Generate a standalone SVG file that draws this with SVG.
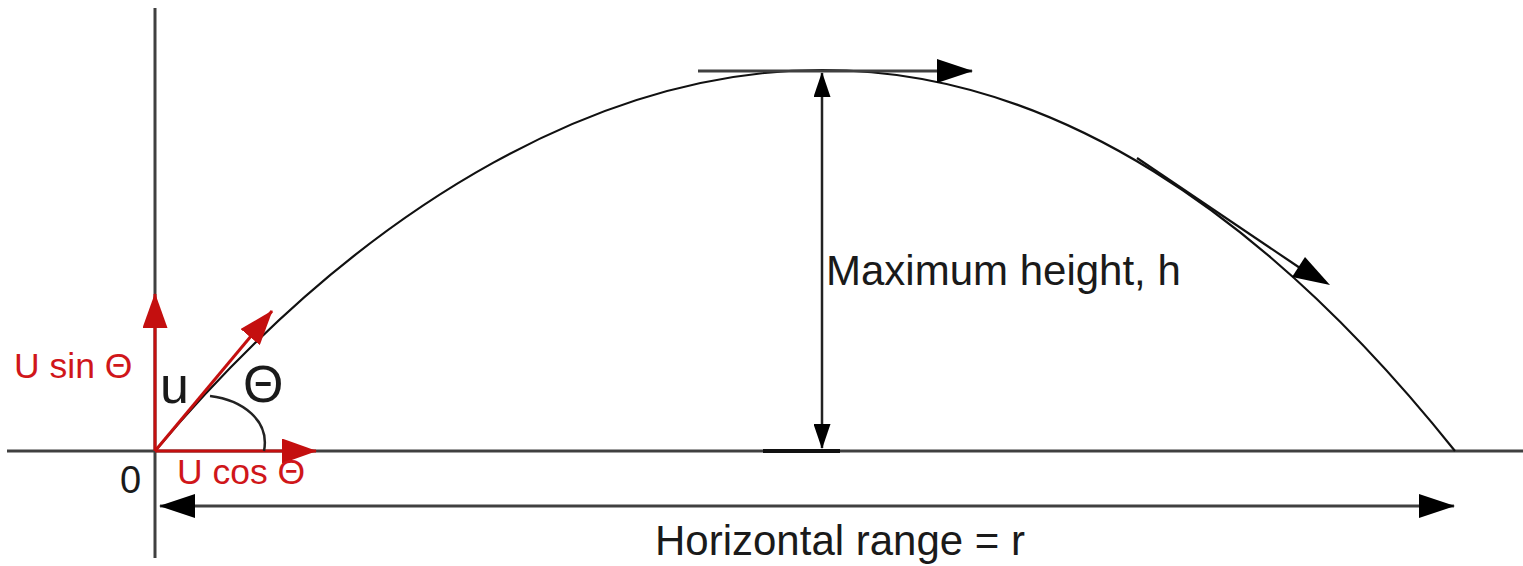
<svg xmlns="http://www.w3.org/2000/svg" width="1523" height="566" viewBox="0 0 1523 566">
<style>
.axis{stroke:#404040;stroke-width:3;fill:none}
.curve{stroke:#111;stroke-width:2.2;fill:none}
.blk{stroke:#222;stroke-width:2.5;fill:none}
.red{stroke:#c40f0f;stroke-width:3;fill:none}
text{font-family:"Liberation Sans",Arial,sans-serif}
.lbl{fill:#1a1a1a}
.rlbl{fill:#d0161a}
</style>
<defs>
<marker id="ahBig" viewBox="0 0 36 24" refX="35" refY="12" markerWidth="36" markerHeight="24" markerUnits="userSpaceOnUse" orient="auto-start-reverse"><path d="M0,0 L36,12 L0,24 Z" fill="#000"/></marker>
<marker id="ahSmall" viewBox="0 0 25 17" refX="24" refY="8.5" markerWidth="25" markerHeight="17" markerUnits="userSpaceOnUse" orient="auto-start-reverse"><path d="M0,0 L25,8.5 L0,17 Z" fill="#000"/></marker>
<marker id="ahRed" viewBox="0 0 35 25" refX="34" refY="12.5" markerWidth="35" markerHeight="25" markerUnits="userSpaceOnUse" orient="auto"><path d="M0,0 L35,12.5 L0,25 Z" fill="#c40f0f"/></marker>
</defs>
<rect width="1523" height="566" fill="#fff"/>
<g id="axes">
<line class="axis" x1="155" y1="8" x2="155" y2="558"/>
<line class="axis" x1="7" y1="451" x2="1523" y2="451"/>
</g>
<g id="trajectory">
<path class="curve" d="M155,451 C375,190 615,70 822,70 C1052,70 1265,213 1455,451"/>
</g>
<g id="connectors">
<line class="axis" x1="160" y1="506" x2="1454" y2="506" marker-start="url(#ahBig)" marker-end="url(#ahBig)"/>
<line class="blk" x1="822" y1="73" x2="822" y2="448" marker-start="url(#ahSmall)" marker-end="url(#ahSmall)"/>
<line stroke="#111" stroke-width="4" x1="763" y1="451" x2="840" y2="451"/>
<line class="axis" x1="698" y1="71" x2="972" y2="71" marker-end="url(#ahBig)"/>
<path class="curve" d="M1137,158 L1300,268"/>
<path d="M1305,257 L1330,285 L1292,277 Z" fill="#000"/>
<line class="red" x1="155" y1="451" x2="155" y2="294" marker-end="url(#ahRed)"/>
<line class="red" x1="155" y1="451" x2="316" y2="451" marker-end="url(#ahRed)"/>
<line class="red" x1="155" y1="451" x2="272" y2="311" marker-end="url(#ahRed)"/>
<path class="blk" d="M210,396 C242,400 270,420 264,451"/>
</g>
<g id="labels">
<text class="rlbl" x="14" y="378" font-size="35.5">U sin Θ</text>
<text class="rlbl" x="177" y="484" font-size="35.5">U cos Θ</text>
<text class="lbl" x="120" y="493" font-size="38">0</text>
<text class="lbl" x="160" y="403" font-size="52">u</text>
<text class="lbl" x="243" y="402" font-size="52">Θ</text>
<text class="lbl" x="826" y="285" font-size="42">Maximum height, h</text>
<text class="lbl" x="655" y="555" font-size="42">Horizontal range = r</text>
</g>
</svg>
